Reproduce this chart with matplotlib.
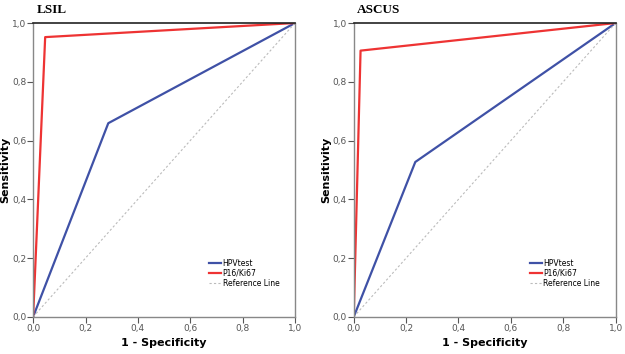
import numpy as np
import matplotlib
matplotlib.use('Agg')
import matplotlib.pyplot as plt
from matplotlib.ticker import FuncFormatter

titles = ['LSIL', 'ASCUS']
hpv_x = [[0.0, 0.287, 1.0], [0.0, 0.235, 1.0]]
hpv_y = [[0.0, 0.659, 1.0], [0.0, 0.527, 1.0]]
p16_x = [[0.0, 0.046, 1.0], [0.0, 0.026, 1.0]]
p16_y = [[0.0, 0.952, 1.0], [0.0, 0.906, 1.0]]
ref_line = [0.0, 1.0]
ticks = [0.0, 0.2, 0.4, 0.6, 0.8, 1.0]

fig = plt.figure(figsize=(6.25, 3.54), dpi=100)
positions = [[0.053, 0.105, 0.419, 0.83], [0.566, 0.105, 0.419, 0.83]]
comma = FuncFormatter(lambda v, p: ('%.1f' % v).replace('.', ','))

for i in range(2):
    ax = fig.add_axes(positions[i])
    ax.plot(hpv_x[i], hpv_y[i], color='#3f51a6', lw=1.6, label='HPVtest')
    ax.plot(p16_x[i], p16_y[i], color='#ee3333', lw=1.6, label='P16/Ki67')
    ax.plot(ref_line, ref_line, color='#bbbbbb', lw=0.8, ls=(0, (2, 2)), label='Reference Line')
    ax.set_xlim(0, 1)
    ax.set_ylim(0, 1)
    ax.set_xticks(ticks)
    ax.set_yticks(ticks)
    ax.xaxis.set_major_formatter(comma)
    ax.yaxis.set_major_formatter(comma)
    ax.tick_params(direction='out', length=4, width=0.8, labelsize=6.5,
                   colors='#555555', pad=1)
    for s in ['left', 'bottom', 'right']:
        ax.spines[s].set_color('#888888')
        ax.spines[s].set_linewidth(1.0)
    ax.spines['top'].set_color('#222222')
    ax.spines['top'].set_linewidth(1.2)
    ax.set_xlabel('1 - Specificity', fontsize=8, fontweight='bold', labelpad=4)
    ax.set_ylabel('Sensitivity', fontsize=8, fontweight='bold', labelpad=1)
    ax.text(0.012, 1.034, titles[i], transform=ax.transAxes, fontsize=9.5,
            fontweight='bold', family='Liberation Serif', va='baseline')
    ax.legend(loc='lower right', bbox_to_anchor=(0.955, 0.085), fontsize=5.5,
              frameon=False, handlelength=1.6, handletextpad=0.2,
              labelspacing=0.15, borderpad=0)

fig.savefig('out.png', dpi=100)
